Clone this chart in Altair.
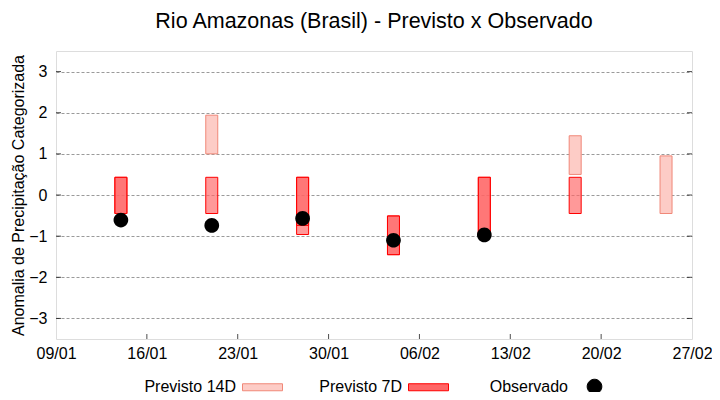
import altair as alt
import pandas as pd

series_names = ["Previsto 14D", "Previsto 7D", "Observado"]

# 14-day forecast bars (date, low, high)
d14_dates = ["2024-01-21", "2024-02-18", "2024-02-25"]
d14_low = [1.00, 0.50, -0.45]
d14_high = [1.94, 1.44, 0.95]

# 7-day forecast bars (overlapping runs)
d7_dates = ["2024-01-14", "2024-01-14", "2024-01-21", "2024-01-28", "2024-01-28",
            "2024-02-04", "2024-02-04", "2024-02-11", "2024-02-11", "2024-02-18"]
d7_low = [-0.45, -0.45, -0.45, -0.96, -0.74, -1.45, -1.45, -0.96, -0.96, -0.45]
d7_high = [0.43, 0.43, 0.43, 0.43, 0.43, -0.51, -0.51, 0.43, 0.43, 0.43]

# observed
obs_dates = ["2024-01-14", "2024-01-21", "2024-01-28", "2024-02-04", "2024-02-11"]
obs_vals = [-0.61, -0.74, -0.57, -1.10, -0.97]

# axis ticks
x_tick_dates = ["2024-01-09", "2024-01-16", "2024-01-23", "2024-01-30",
                "2024-02-06", "2024-02-13", "2024-02-20", "2024-02-27"]
y_ticks = [-3, -2, -1, 0, 1, 2, 3]
y_min, y_max = -3.5, 3.5

FONT = "Liberation Sans"


def dt(s):
    y, m, d = (int(v) for v in s.split("-"))
    return alt.DateTime(year=y, month=m, date=d, utc=True)


bars = pd.concat([
    pd.DataFrame({"date": d14_dates, "low": d14_low, "high": d14_high, "series": series_names[0]}),
    pd.DataFrame({"date": d7_dates, "low": d7_low, "high": d7_high, "series": series_names[1]}),
], ignore_index=True)
obs = pd.DataFrame({"date": obs_dates, "value": obs_vals, "series": series_names[2]})

left_ticks = pd.DataFrame({"date": x_tick_dates[0], "y": y_ticks})
right_ticks = pd.DataFrame({"date": x_tick_dates[-1], "y": y_ticks})
bottom_ticks = pd.DataFrame({"date": x_tick_dates[1:-1], "y": y_min})

rect_path = "M-1,-0.175H1V0.175H-1Z"
dot_path = "M0.367,0A0.367,0.367 0 1,1 -0.367,0A0.367,0.367 0 1,1 0.367,0Z"

leg = alt.Legend(
    title=None, orient="none", legendX=186, legendY=315, direction="horizontal",
    columns=3, labelAlign="right", labelOffset={"expr": "-47"}, symbolSize=1600,
    symbolStrokeWidth=1, labelFontSize=16, labelFont=FONT, labelColor="#000",
    columnPadding=34, gridAlign="all", labelLimit=300,
)

col_scale = alt.Scale(domain=series_names, range=["#fdccc6", "#ff6666", "#000000"])
stroke_scale = alt.Scale(domain=series_names, range=["#f08878", "#ff0000", "#000000"])
fop_scale = alt.Scale(type="ordinal", domain=series_names, range=[1.0, 0.667, 1.0])
shape_scale = alt.Scale(domain=series_names, range=[rect_path, rect_path, dot_path])

x_scale = alt.Scale(type="utc", domain=[dt(x_tick_dates[0]), dt(x_tick_dates[-1])], padding=0)
y_scale = alt.Scale(domain=[y_min, y_max], nice=False, zero=False, padding=0)

x_axis = alt.Axis(values=[dt(s) for s in x_tick_dates],
                  labelExpr="utcFormat(datum.value, '%d/%m')",
                  title=None, grid=False, ticks=False, domain=False, labelPadding=6,
                  labelFontSize=16, labelFont=FONT, labelColor="#000", labelFlush=False)
y_axis = alt.Axis(values=y_ticks, title="Anomalia de Precipitação Categorizada",
                  grid=True, gridColor="#9a9a9a", gridDash=[3, 2], gridWidth=1,
                  ticks=False, domain=False, tickSize=0, labelPadding=9,
                  labelFontSize=16, labelFont=FONT, labelColor="#000",
                  titleFontSize=16, titleFont=FONT, titleFontWeight="normal",
                  titleColor="#000", titlePadding=2)

bar_layer = alt.Chart(bars).mark_bar(size=12, strokeWidth=1).encode(
    x=alt.X("date:T", scale=x_scale, axis=x_axis),
    y=alt.Y("low:Q", scale=y_scale, axis=y_axis),
    y2="high:Q",
    color=alt.Color("series:N", scale=col_scale, legend=leg),
    stroke=alt.Stroke("series:N", scale=stroke_scale, legend=leg),
    fillOpacity=alt.FillOpacity("series:N", scale=fop_scale, legend=leg),
)

pt_layer = alt.Chart(obs).mark_point(filled=True, size=1600, strokeWidth=0, opacity=1).encode(
    x=alt.X("date:T"),
    y=alt.Y("value:Q"),
    color=alt.Color("series:N", scale=col_scale, legend=leg),
    stroke=alt.Stroke("series:N", scale=stroke_scale, legend=leg),
    fillOpacity=alt.FillOpacity("series:N", scale=fop_scale, legend=leg),
    shape=alt.Shape("series:N", scale=shape_scale, legend=leg),
)

lt = alt.Chart(left_ticks).mark_tick(orient="horizontal", size=5, thickness=1, color="black", xOffset=2.5).encode(
    x="date:T", y="y:Q")
rt = alt.Chart(right_ticks).mark_tick(orient="horizontal", size=5, thickness=1, color="black", xOffset=-2.5).encode(
    x="date:T", y="y:Q")
bt = alt.Chart(bottom_ticks).mark_tick(orient="vertical", size=5, thickness=1, color="black", yOffset=-2.5).encode(
    x="date:T", y="y:Q")

chart = alt.layer(bar_layer, pt_layer, lt, rt, bt).properties(
    width=636, height=288,
    autosize=alt.AutoSizeParams(type="none"),
    padding={"left": 48, "top": 43, "right": 20, "bottom": 53},
    title=alt.TitleParams("Rio Amazonas (Brasil) - Previsto x Observado", fontSize=21.5,
                          font=FONT, fontWeight="normal", color="#000", anchor="middle", offset=19),
).configure_view(stroke="black", strokeWidth=1).configure(background="white")

chart.save("out.html", embed_options={"renderer": "svg", "actions": False})
